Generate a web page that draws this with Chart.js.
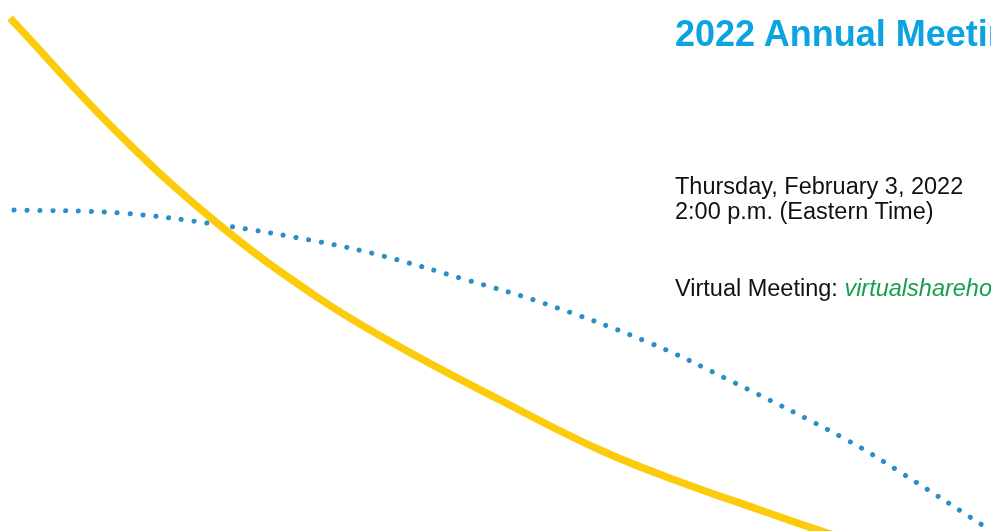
<!DOCTYPE html>
<html lang="en">
<head>
    <meta charset="UTF-8">
    <title>2022 Annual Meeting</title>
    <style>
        html, body {
            margin: 0;
            padding: 0;
            background: #fff;
        }

        .page {
            position: relative;
            width: 991px;
            height: 531px;
            overflow: hidden;
            font-family: 'Liberation Sans', Arial, sans-serif;
        }

        #curves {
            position: absolute;
            left: 0;
            top: 0;
        }

        .text {
            position: absolute;
            left: 675px;
            white-space: nowrap;
            color: #111;
        }

        .title {
            top: 14px;
            font-size: 36px;
            line-height: 40px;
            font-weight: bold;
            color: #0ca3e2;
        }

        .when {
            top: 174px;
            font-size: 23.5px;
            line-height: 25px;
        }

        .where {
            top: 276px;
            font-size: 23.5px;
            line-height: 25px;
        }

        .where a {
            color: #17a04b;
            font-style: italic;
            text-decoration: none;
        }
    </style>
</head>
<body>

    <div class="page">
        <canvas id="curves" width="991" height="531"></canvas>

        <div class="text title">2022 Annual Meeting of Shareholders</div>
        <div class="text when">Thursday, February 3, 2022<br>2:00 p.m. (Eastern Time)</div>
        <div class="text where">Virtual Meeting: <a>virtualshareholdermeeting.com</a></div>
    </div>

    <script src="https://cdn.jsdelivr.net/npm/chart.js"></script>
    <script>
        // Curve points (page pixels, y grows downward)
        const goldX = [10, 120, 217, 317, 400, 500, 600, 683, 760, 815, 850];
        const goldY = [18, 135, 223, 297, 347, 400, 450, 483, 510, 529, 540];

        const blueX = [14, 120, 220, 320, 383, 467, 543, 650, 733, 847, 900, 990];
        const blueY = [210, 213, 225, 242, 256, 280, 303, 343, 382, 440, 472, 530];

        const toPoints = (xs, ys) => xs.map((x, i) => ({ x: x, y: ys[i] }));

        new Chart(document.getElementById('curves'), {
            type: 'line',
            data: {
                datasets: [
                    {
                        label: 'gold',
                        data: toPoints(goldX, goldY),
                        borderColor: '#fccb0c',
                        borderWidth: 7.5,
                        pointRadius: 0,
                        tension: 0.4,
                        fill: false
                    },
                    {
                        label: 'blue',
                        data: toPoints(blueX, blueY),
                        borderColor: '#2a8fc4',
                        borderWidth: 5,
                        borderDash: [0.1, 12.8],
                        borderCapStyle: 'round',
                        pointRadius: 0,
                        tension: 0.4,
                        fill: false
                    }
                ]
            },
            options: {
                responsive: false,
                animation: false,
                clip: false,
                layout: { padding: 0 },
                plugins: {
                    legend: { display: false },
                    tooltip: { enabled: false }
                },
                scales: {
                    x: { type: 'linear', min: 0, max: 991, display: false },
                    y: { type: 'linear', min: 0, max: 531, reverse: true, display: false }
                }
            }
        });
    </script>

</body>
</html>
